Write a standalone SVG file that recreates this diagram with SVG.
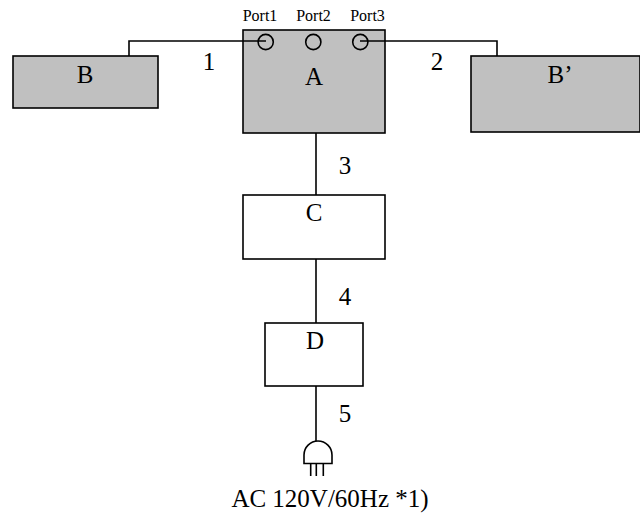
<svg xmlns="http://www.w3.org/2000/svg" width="640" height="516" viewBox="0 0 640 516">
<style>
text{font-family:"Liberation Serif","Times New Roman",serif;fill:#000;text-anchor:middle}
.l{font-size:25px}
.p{font-size:16px}
.g{fill:#c0c0c0;stroke:#000;stroke-width:1.6}
.w{fill:#fff;stroke:#000;stroke-width:1.6}
.c{fill:none;stroke:#000;stroke-width:1.6}
.o{fill:none;stroke:#000;stroke-width:1.6}
</style>
<rect width="640" height="516" fill="#fff"/>
<g id="node-B"><rect class="g" x="13" y="56" width="145" height="52"/><text class="l" x="85" y="83">B</text></g>
<g id="node-Bp"><rect class="g" x="471" y="56" width="169" height="76"/><text class="l" x="560" y="83">B’</text></g>
<g id="node-A"><rect class="g" x="243" y="30" width="142" height="103"/><text class="l" x="314" y="85">A</text>
<circle class="o" cx="265.7" cy="42" r="7.6"/><circle class="o" cx="313.3" cy="42" r="7.6"/><circle class="o" cx="360.3" cy="42" r="7.6"/>
<text class="p" x="260" y="21">Port1</text><text class="p" x="313.5" y="21">Port2</text><text class="p" x="367.5" y="21">Port3</text></g>
<g id="node-C"><rect class="w" x="243" y="195" width="142" height="64"/><text class="l" x="314" y="221">C</text></g>
<g id="node-D"><rect class="w" x="265" y="323" width="98" height="63"/><text class="l" x="315" y="349">D</text></g>
<g id="node-plug"><path class="o" d="M304 463.500V455A14 14 0 0 1 332 455V463.500Z"/><path class="o" d="M310.700 463.500V476M316.300 463.500V476M323.300 463.500V476"/></g>
<g id="connectors">
<path class="c" d="M129 56V41H266"/><path class="c" d="M360 41H497V56"/>
<path class="c" d="M316 133V195"/><path class="c" d="M316 259V323"/><path class="c" d="M316 386V441"/>
</g>
<text class="l" x="209" y="70">1</text><text class="l" x="437" y="70">2</text>
<text class="l" x="345" y="174">3</text><text class="l" x="345" y="305">4</text><text class="l" x="345" y="422">5</text>
<text class="l" x="330" y="507">AC 120V/60Hz *1)</text>
</svg>
